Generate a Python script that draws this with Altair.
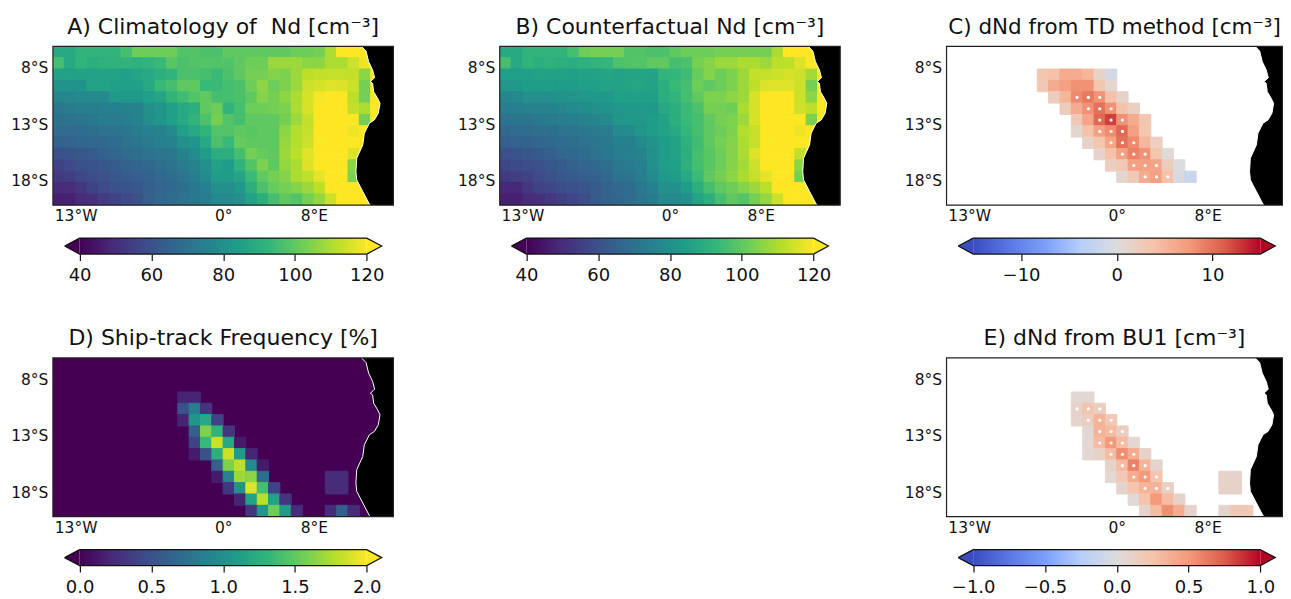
import altair as alt
import pandas as pd

FONT = "DejaVu Sans"
VIRIDIS = ["#440154", "#482878", "#3e4989", "#31688e", "#26828e", "#1f9e89", "#35b779", "#6ece58", "#b5de2b", "#fde725"]
COOLWARM = ["#3b4cc0", "#5977e3", "#7b9ff9", "#b6cefa", "#dddcdc", "#f5c4ac", "#f49a7b", "#dc5d4a", "#b40426"]

A_ROWS = [
 [88,88,92,92,92,92,96,102,102,102,102,98,98,97,97,100,100,100,100,100,100,102,102,103,110,120,120,120,120,120],
 [96,88,92,90,91,91,92,91,92,94,99,97,98,98,98,98,100,102,102,108,108,108,106,106,110,110,114,118,120,120],
 [86,86,86,86,86,86,85,87,88,90,92,97,97,96,94,97,100,103,103,105,104,108,112,113,113,113,113,106,120,120],
 [81,81,81,86,86,85,85,85,88,94,96,100,100,94,94,96,97,102,106,102,104,108,114,115,116,116,114,103,120,120],
 [77,77,78,78,78,83,83,83,85,87,92,95,98,100,96,96,97,100,105,103,106,110,115,119,120,120,112,103,120,120],
 [72,73,74,74,75,75,76,76,80,82,85,88,90,100,102,92,96,102,102,103,104,110,115,120,120,120,113,110,120,120],
 [70,70,71,72,73,73,74,76,80,82,85,88,92,97,103,98,96,100,100,100,103,108,113,120,120,120,120,103,120,120],
 [68,68,68,69,70,70,71,73,75,76,78,85,88,92,98,98,100,99,100,100,106,111,113,120,120,120,118,120,120,120],
 [65,65,66,67,67,68,70,71,73,75,76,80,82,88,97,94,101,100,100,100,107,111,114,120,120,120,120,120,120,120],
 [60,61,62,63,65,66,68,69,70,71,72,76,79,84,90,90,96,103,101,100,108,112,116,120,120,120,116,120,120,120],
 [56,58,60,61,62,63,65,66,67,69,70,73,76,80,86,84,92,98,104,100,107,110,116,120,120,120,106,120,120,120],
 [54,55,57,59,60,62,63,64,65,67,68,71,74,78,84,84,87,94,100,103,105,110,112,117,120,120,104,120,120,120],
 [50,50,53,56,58,60,61,62,64,66,67,69,72,75,80,80,83,90,97,101,103,105,108,112,120,120,120,120,120,120],
 [47,47,50,51,54,56,58,60,64,67,68,70,72,74,78,78,80,86,90,96,100,98,103,107,114,120,120,120,120,120],
]
B_ROWS = [
 [88,88,92,92,92,92,96,102,103,103,103,98,98,97,97,100,102,102,102,103,103,103,103,103,110,120,120,120,120,120],
 [96,88,92,90,91,90,90,91,92,93,97,98,98,100,100,96,97,103,105,108,108,110,110,108,112,112,116,120,120,120],
 [85,85,85,86,86,86,85,86,86,87,86,87,87,86,92,93,95,101,105,102,104,108,113,113,114,115,114,109,120,120],
 [82,83,84,84,84,84,84,85,85,86,86,87,87,86,90,94,96,102,100,102,104,108,112,116,116,116,114,103,120,120],
 [77,78,80,80,80,81,82,82,83,83,85,85,85,85,90,92,96,100,104,104,106,108,115,120,120,120,114,106,120,120],
 [74,75,76,76,76,77,78,79,80,81,82,83,83,83,88,90,94,97,103,103,102,110,115,120,120,120,114,112,120,120],
 [70,71,71,72,73,74,74,76,77,78,82,83,83,84,86,90,94,96,100,103,104,108,115,120,120,120,120,104,120,120],
 [67,68,68,69,69,70,71,72,73,74,78,79,82,84,86,88,93,96,100,102,104,111,113,120,120,120,118,120,120,120],
 [64,65,65,66,67,68,69,70,71,72,75,75,78,81,84,86,91,95,100,103,105,110,113,120,120,120,120,120,120,120],
 [60,61,62,63,64,66,67,68,70,72,74,75,76,80,84,86,90,96,99,102,105,110,116,120,120,120,113,120,120,120],
 [57,58,59,60,62,63,65,66,67,69,72,73,75,80,84,85,91,96,99,102,105,109,114,120,120,120,106,120,120,120],
 [54,55,56,58,60,62,63,64,65,67,70,71,74,78,83,84,88,94,100,103,106,110,113,117,120,120,103,120,120,120],
 [49,49,53,56,57,59,60,61,63,65,67,68,72,75,80,80,84,90,96,100,102,105,108,112,120,120,120,120,120,120],
 [47,47,50,51,53,55,57,59,63,65,66,68,71,73,78,78,80,86,90,96,100,98,103,107,114,120,120,120,120,120],
]
# sparse panels: (row, first column, values)
C_CELLS = [
 (2, 8, [3.5,4,6,6,5,1.5,-1]),
 (3, 8, [3,6,7,8,8,3.5,1]),
 (4, 9, [2.5,5,8.5,9.5,8,4,1.5]),
 (5, 10, [2.5,6,8,10,8,4,2]),
 (6, 11, [3,6.5,10.5,12.5,8,6,3.5]),
 (7, 11, [1,4,7,8.5,10.5,7,3.5]),
 (8, 12, [1.5,3.5,6.5,10,8.5,5,2]),
 (9, 13, [1.5,4,7,9,8,3.5,0.3]),
 (10, 14, [2,3,7,7,6.5,2.5,0]),
 (11, 15, [1,3,6,7,4,-0.5,-2]),
]
C_DOTS = [(4,11),(4,12),(4,13),(5,12),(5,13),(5,14),(6,13),(6,14),(6,15),(7,13),(7,14),(7,15),
          (8,14),(8,15),(8,16),(9,15),(9,16),(9,17),(10,16),(10,17),(10,18),(11,17),(11,18),(11,19)]
D_CELLS = [
 (3, 11, [0.2,0.2]),
 (4, 11, [0.5,0.85,0.3]),
 (5, 11, [0.2,1.05,1.2,0.4]),
 (6, 12, [0.6,1.6,1.3,0.3]),
 (7, 12, [0.4,1.35,1.85,1.2,0.15]),
 (8, 12, [0.15,0.5,1.25,1.85,1.1,0.2]),
 (9, 14, [0.6,1.6,1.8,0.95,0.15]),
 (10, 14, [0.15,0.9,1.7,1.65,0.7]),
 (10, 24, [0.25,0.25]),
 (11, 15, [0.3,1.0,1.9,1.4,0.4]),
 (11, 24, [0.25,0.25]),
 (12, 16, [0.2,1.15,1.8,1.15,0.3]),
 (13, 17, [0.3,1.05,1.55,1.1,0.25]),
 (13, 24, [0.25,0.6,0.25]),
]
E_CELLS = [
 (3, 11, [0.05,0.05]),
 (4, 11, [0.1,0.25,0.15]),
 (5, 11, [0.08,0.15,0.35,0.2]),
 (6, 12, [0.05,0.35,0.3,0.15]),
 (7, 12, [0.05,0.3,0.5,0.3,0.05]),
 (8, 12, [0.05,0.1,0.3,0.55,0.4,0.1]),
 (9, 14, [0.1,0.3,0.6,0.35,0.08]),
 (10, 14, [0.05,0.2,0.4,0.5,0.25]),
 (10, 24, [0.1,0.1]),
 (11, 15, [0.08,0.25,0.35,0.35,0.12]),
 (11, 24, [0.1,0.1]),
 (12, 16, [0.03,0.25,0.5,0.3,0.1]),
 (13, 17, [0.08,0.3,0.55,0.4,0.1]),
 (13, 24, [0.08,0.2,0.2]),
]
E_DOTS = [(4,11),(4,12),(4,13),(5,12),(5,13),(5,14),(6,13),(6,14),(6,15),(7,13),(7,14),(7,15),
          (8,14),(8,15),(8,16),(9,15),(9,16),(9,17),(10,16),(10,17),(10,18),(11,17),(11,18),(11,19)]

COAST_LON = [12.2,12.59,12.82,13.17,13.35,12.97,13.17,13.26,13.61,13.82,13.67,13.32,12.88,12.44,12.3,11.77,11.7,11.77,12.3,12.88,13.0]
COAST_LAT = [-6.0,-6.41,-7.35,-8.08,-8.76,-9.11,-9.26,-9.99,-10.58,-11.02,-11.9,-12.49,-12.78,-13.66,-14.69,-15.86,-17.03,-17.77,-18.79,-19.9,-20.0]

LON_TICKS = [-13, 0, 8]
LAT_TICKS = [-18, -13, -8]
W, H = 341, 159
W_RIGHT = 336.5   # the page cannot show the last 4.5px of the right-hand column
BAR_H = 16


def dense(rows):
    return [dict(lon=-15+c, lon2=-14+c, lat=-6-r, lat2=-7-r, v=v)
            for r, row in enumerate(rows) for c, v in enumerate(row)]


def sparse(cells):
    return [dict(lon=-15+c0+i, lon2=-14+c0+i, lat=-6-r, lat2=-7-r, v=v)
            for r, c0, vals in cells for i, v in enumerate(vals)]


def panel(title, cells, domain, colors, dots=None, background=None, width=W, title_size=22):
    east_edge = -15 + width * 30 / W
    xs = alt.Scale(domain=[-15, east_edge], nice=False, zero=False)
    ys = alt.Scale(domain=[-20, -6], nice=False, zero=False)
    x_axis = alt.Axis(values=LON_TICKS, title=None, grid=False, domain=False, ticks=False, labelPadding=3.5,
                      labelExpr="datum.value < 0 ? abs(datum.value) + '°W' : datum.value > 0 ? datum.value + '°E' : '0°'",
                      labelFontSize=15.5, labelFont=FONT, labelColor="#111")
    y_axis = alt.Axis(values=LAT_TICKS, title=None, grid=False, domain=False, ticks=False, labelPadding=5, labelOffset=-1.5,
                      labelExpr="abs(datum.value) + '°S'", labelFontSize=15.5, labelFont=FONT, labelColor="#111")
    base_x = alt.X("lon:Q", scale=xs, axis=x_axis)
    base_y = alt.Y("lat:Q", scale=ys, axis=y_axis)
    cscale = alt.Scale(domain=domain, range=colors, clamp=True, interpolate="rgb")
    frame_df = pd.DataFrame([dict(lon=-15, lon2=east_edge, lat=-6, lat2=-20)])
    layers = []
    if background:
        layers.append(alt.Chart(frame_df).mark_rect(color=background)
                      .encode(x=base_x, x2="lon2:Q", y=base_y, y2="lat2:Q"))
    layers.append(alt.Chart(pd.DataFrame(cells)).mark_rect(strokeWidth=1, clip=True)
                  .encode(x=base_x, x2="lon2:Q", y=base_y, y2="lat2:Q",
                          color=alt.Color("v:Q", legend=None, scale=cscale),
                          stroke=alt.Stroke("v:Q", legend=None, scale=cscale)))
    if dots:
        dd = pd.DataFrame([dict(lon=-14.5+c, lat=-6.5-r) for r, c in dots])
        layers.append(alt.Chart(dd).mark_circle(color="white", size=10, opacity=1).encode(x=base_x, y=base_y))
    coast = pd.DataFrame(dict(lon=COAST_LON, lat=COAST_LAT, east=16, i=range(len(COAST_LON))))
    layers.append(alt.Chart(coast).mark_area(color="black", orient="horizontal", clip=True)
                  .encode(x=base_x, x2="east:Q", y=base_y))
    layers.append(alt.Chart(coast).mark_line(color="white", strokeWidth=1, clip=True)
                  .encode(x=base_x, y=base_y, order="i:Q"))
    layers.append(alt.Chart(frame_df).mark_rect(fillOpacity=0, stroke="#222", strokeWidth=1.2)
                  .encode(x=base_x, x2="lon2:Q", y=base_y, y2="lat2:Q"))
    return alt.layer(*layers).properties(
        width=width, height=H,
        title=alt.TitleParams(title, fontSize=title_size, font=FONT, fontWeight="normal", color="#111", offset=7),
        view=alt.ViewConfig(stroke=None),
    )


def colorbar(lo, hi, ticks, colors, fmt):
    span = (hi - lo) / 287.6
    lo_edge, hi_edge = lo - 26.7 * span, lo + (341 - 26.7) * span
    tip = 15 * span
    xs = alt.Scale(domain=[lo_edge, hi_edge], nice=False, zero=False)
    ys = alt.Scale(domain=[0, 1])
    x_axis = alt.Axis(values=ticks, title=None, grid=False, domain=False, tickSize=6.5, tickColor="#111", tickWidth=1.2,
                      labelPadding=6, labelFontSize=18, labelFont=FONT, labelColor="#111",
                      labelExpr="replace(format(datum.value, '%s'), '-', '−')" % fmt)
    X = alt.X("x:Q", scale=xs, axis=x_axis)
    Y = alt.Y("y:Q", scale=ys, axis=None)
    grad = alt.LinearGradient(gradient="linear", x1=0, x2=1, y1=0, y2=0,
                              stops=[alt.GradientStop(offset=i / (len(colors) - 1), color=c) for i, c in enumerate(colors)])
    body = alt.Chart(pd.DataFrame([dict(x=lo, x2=hi, y=0, y2=1)])).mark_rect(color=grad).encode(
        x=X, x2="x2:Q", y=Y, y2="y2:Q")
    low = pd.DataFrame(dict(x=[lo - tip, lo], y=[0.5, 0], y2=[0.5, 1]))
    high = pd.DataFrame(dict(x=[hi, hi + tip], y=[0, 0.5], y2=[1, 0.5]))
    t1 = alt.Chart(low).mark_area(color=colors[0]).encode(x=X, y=Y, y2="y2:Q")
    t2 = alt.Chart(high).mark_area(color=colors[-1]).encode(x=X, y=Y, y2="y2:Q")
    outline = pd.DataFrame(dict(x=[lo - tip, lo, hi, hi + tip, hi, lo, lo - tip], y=[0.5, 1, 1, 0.5, 0, 0, 0.5], i=range(7)))
    o = alt.Chart(outline).mark_line(color="#111", strokeWidth=1.2).encode(x=X, y=Y, order="i:Q")
    return alt.layer(t1, t2, body, o).properties(width=W, height=BAR_H, view=alt.ViewConfig(stroke=None))


pA = panel("A) Climatology of \u00a0Nd [cm⁻³]", dense(A_ROWS), [40, 120], VIRIDIS)
pB = panel("B) Counterfactual Nd [cm⁻³]", dense(B_ROWS), [40, 120], VIRIDIS)
pC = panel("C) dNd from TD method [cm⁻³]", sparse(C_CELLS), [-15, 15], COOLWARM, dots=C_DOTS, width=W_RIGHT, title_size=21.5)
pD = panel("D) Ship-track Frequency [%]", sparse(D_CELLS), [0, 2], VIRIDIS, background=VIRIDIS[0])
pE = panel("E) dNd from BU1 [cm⁻³]", sparse(E_CELLS), [-1, 1], COOLWARM, dots=E_DOTS, width=W_RIGHT)

cA = colorbar(40, 120, [40, 60, 80, 100, 120], VIRIDIS, "d")
cB = colorbar(40, 120, [40, 60, 80, 100, 120], VIRIDIS, "d")
cC = colorbar(-15, 15, [-10, 0, 10], COOLWARM, "d")
cD = colorbar(0, 2, [0, 0.5, 1, 1.5, 2], VIRIDIS, ".1f")
cE = colorbar(-1, 1, [-1, -0.5, 0, 0.5, 1], COOLWARM, ".1f")


def col(*charts):
    spacings = 11
    c = alt.vconcat(charts[0], charts[1], spacing=spacings).resolve_scale(color="independent", stroke="independent")
    if len(charts) > 2:
        c2 = alt.vconcat(charts[2], charts[3], spacing=spacings).resolve_scale(color="independent", stroke="independent")
        return alt.vconcat(c, c2, spacing=42).resolve_scale(color="independent", stroke="independent")
    return c


chart = alt.hconcat(col(pA, cA, pD, cD), col(pB, cB), col(pC, cC, pE, cE), spacing=62.5).resolve_scale(
    color="independent", stroke="independent"
).properties(padding={"left": 2, "top": 7, "right": -4, "bottom": 0})

chart.save("out.html", embed_options={"renderer": "svg", "actions": False})
